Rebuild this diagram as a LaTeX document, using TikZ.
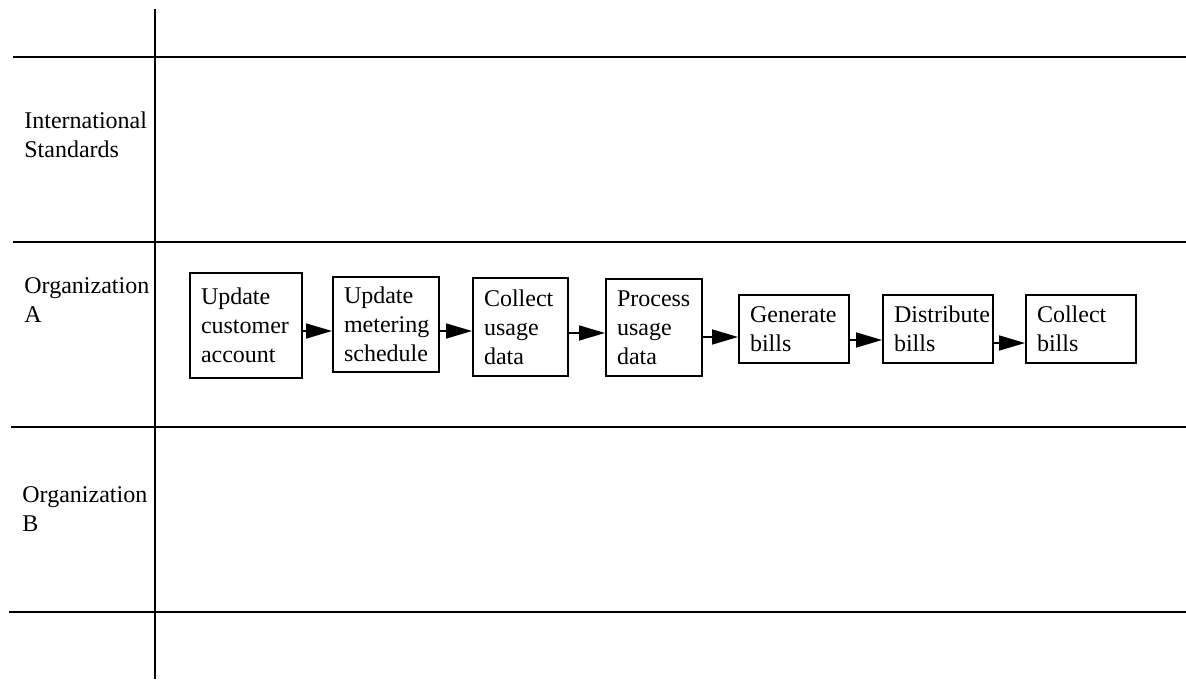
\documentclass[tikz,border=0pt]{standalone}
\usepackage{fontspec}
\setmainfont{Liberation Serif}
\usetikzlibrary{arrows.meta}
\begin{document}
\begin{tikzpicture}[x=0.5pt,y=-0.5pt,
  lane/.style={line width=0.9pt},
  task/.style={draw, line width=1pt, align=left, inner xsep=5.5pt, inner ysep=0pt,
    font=\fontsize{12}{14.5}\selectfont},
  lanelabel/.style={anchor=north west, inner sep=0pt, align=left,
    font=\fontsize{12}{14.5}\selectfont},
  flow/.style={line width=0.8pt, -{Triangle[length=13pt,width=7.5pt]}}]
\useasboundingbox (0,0) rectangle (1186,679);

% swimlane grid
\draw[lane] (155,9) -- (155,679);
\draw[lane] (13,57) -- (1186,57);
\draw[lane] (13,242) -- (1186,242);
\draw[lane] (11,427) -- (1186,427);
\draw[lane] (9,612) -- (1186,612);

% lane titles
\node[lanelabel] (intl) at (24,111.6) {International\\Standards};
\node[lanelabel] (orgA) at (24,277.6) {Organization\\A};
\node[lanelabel] (orgB) at (22,486.6) {Organization\\B};

% process steps
\node[task, minimum width=56pt, minimum height=52.5pt, text width=45pt] (b1) at (246,325.5) {Update\\customer\\account};
\node[task, minimum width=53pt, minimum height=47.5pt, text width=42pt] (b2) at (386,324.5) {Update\\metering\\schedule};
\node[task, minimum width=47.5pt, minimum height=49pt, text width=36.5pt] (b3) at (520.5,327) {Collect\\usage\\data};
\node[task, minimum width=48pt, minimum height=48.5pt, text width=37pt] (b4) at (654,327.5) {Process\\usage\\data};
\node[task, minimum width=55pt, minimum height=34pt, text width=44pt] (b5) at (794,329) {Generate\\bills};
\node[task, minimum width=55pt, minimum height=34pt, text width=44pt] (b6) at (938,329) {Distribute\\bills};
\node[task, minimum width=55pt, minimum height=34pt, text width=44pt] (b7) at (1081,329) {Collect\\bills};

% flow between steps
\draw[flow] (b1.east |- 0,331) -- (b2.west |- 0,331);
\draw[flow] (b2.east |- 0,331) -- (b3.west |- 0,331);
\draw[flow] (b3.east |- 0,333) -- (b4.west |- 0,333);
\draw[flow] (b4.east |- 0,337) -- (b5.west |- 0,337);
\draw[flow] (b5.east |- 0,340) -- (b6.west |- 0,340);
\draw[flow] (b6.east |- 0,343) -- (b7.west |- 0,343);
\end{tikzpicture}
\end{document}
